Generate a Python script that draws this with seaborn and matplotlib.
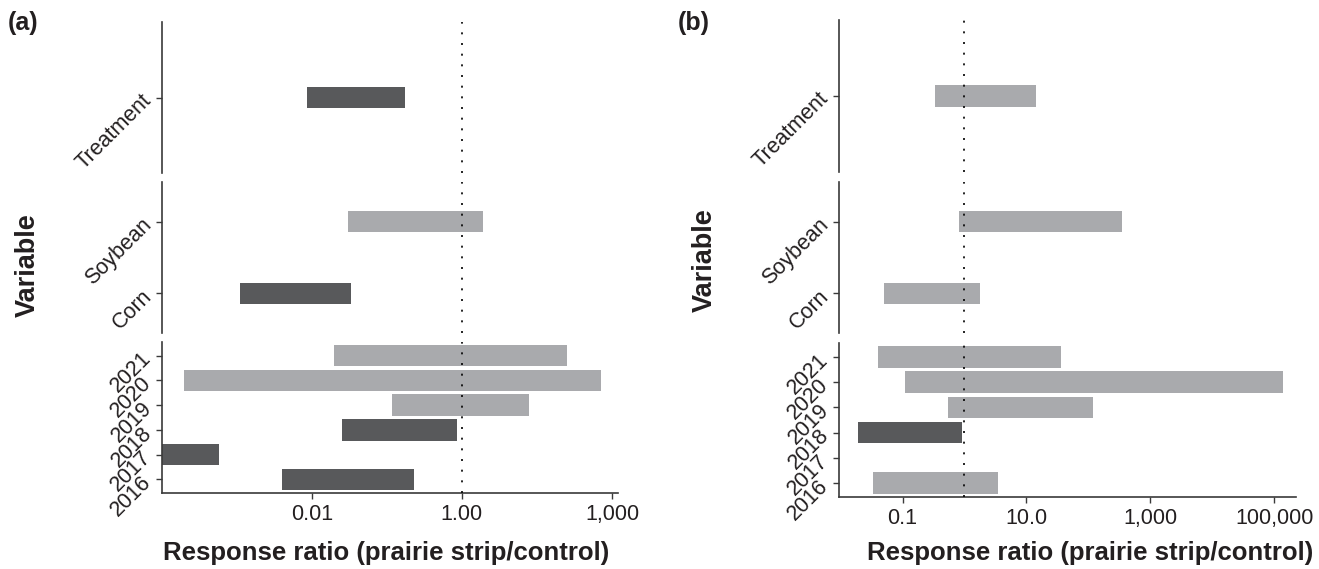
import numpy as np
import pandas as pd
import matplotlib
matplotlib.use('Agg')
import matplotlib.pyplot as plt
import seaborn as sns

sns.set_theme(style='ticks')
plt.rcParams['font.family'] = ['Liberation Sans', 'DejaVu Sans']

DARK = '#58595b'
LIGHT = '#a9aaad'
INK = '#231f20'
BOLD_FONT = ['Liberation Sans', 'DejaVu Sans']

# categories of each facet, top to bottom
treat_cats = ['Treatment']
crop_cats = ['Soybean', 'Corn']
year_cats = ['2021', '2020', '2019', '2018', '2017', '2016']

# panel (a): interval ends of the log10 response ratio, significant = dark
a_treat_lo = [-2.06]
a_treat_hi = [-0.76]
a_treat_sig = [True]
a_crop_lo = [-1.52, -2.96]
a_crop_hi = [0.28, -1.48]
a_crop_sig = [False, True]
a_year_lo = [-1.70, -3.70, -0.93, -1.60, -4.20, -2.40]
a_year_hi = [1.40, 1.86, 0.90, -0.07, -3.24, -0.64]
a_year_sig = [False, False, False, True, True, True]
a_ticks = [-2, 0, 2]
a_tick_labels = ['0.01', '1.00', '1,000']

# panel (b)
b_treat_lo = [-0.48]
b_treat_hi = [1.15]
b_treat_sig = [False]
b_crop_lo = [-0.09, -1.30]
b_crop_hi = [2.54, 0.25]
b_crop_sig = [False, False]
b_year_lo = [-1.39, -0.96, -0.27, -1.72, np.nan, -1.47]
b_year_hi = [1.56, 5.14, 2.07, -0.04, np.nan, 0.54]
b_year_sig = [False, False, False, True, False, False]
b_ticks = [-1, 1, 3, 5]
b_tick_labels = ['0.1', '10.0', '1,000', '100,000']

W, H = 1319, 569
fig = plt.figure(figsize=(W / 100, H / 100), dpi=100)


def px_axes(x0, x1, y0, y1):
    return fig.add_axes([x0 / W, 1 - y1 / H, (x1 - x0) / W, (y1 - y0) / H])


def draw_facet(ax, cats, lo, hi, sig, xlim, ticks, labels, bottom, bar_px=21.7):
    df = pd.DataFrame({'cat': cats, 'lo': lo, 'hi': hi, 'sig': sig}).dropna()
    df['span'] = df['hi'] - df['lo']
    df['pos'] = [cats.index(c) for c in df['cat']]
    df = df.sort_values('pos')
    n = len(cats)
    ylim = (n - 1 + 0.55, -0.55)
    h_px = ax.get_position().height * H
    w = bar_px * (ylim[0] - ylim[1]) / h_px
    sns.barplot(data=df, x='span', y='cat', order=cats, orient='y', width=w,
                left=df['lo'].to_numpy(), errorbar=None, color=LIGHT,
                linewidth=0, ax=ax)
    for p, s in zip(ax.patches, df['sig']):
        p.set_facecolor(DARK if s else LIGHT)
        p.set_edgecolor('none')
    ax.axvline(0, color='black', lw=1.2, ls=(0, (1.2, 5.2)), zorder=3)
    ax.set_xlim(*xlim)
    ax.set_ylim(*ylim)
    ax.set_xlabel('')
    ax.set_ylabel('')
    ax.set_yticks(range(n))
    ax.set_yticklabels(cats, rotation=45, ha='right', va='center',
                       rotation_mode='anchor', fontsize=15.5, color=INK)
    for side in ['top', 'right']:
        ax.spines[side].set_visible(False)
    ax.spines['left'].set_color('#3a3a3a')
    ax.spines['left'].set_linewidth(1.2)
    ax.tick_params(axis='y', length=4, width=1, color='#3a3a3a', pad=6)
    if bottom:
        ax.spines['bottom'].set_color('#3a3a3a')
        ax.spines['bottom'].set_linewidth(1.2)
        ax.set_xticks(ticks)
        ax.set_xticklabels(labels, fontsize=15.5, color=INK)
        ax.tick_params(axis='x', length=4, width=1, color='#3a3a3a', pad=4)
    else:
        ax.spines['bottom'].set_visible(False)
        ax.set_xticks([])


# panel (a)
a_xlim = (-3.99, 2.08)
ax = px_axes(162.3, 618, 22, 173)
draw_facet(ax, treat_cats, a_treat_lo, a_treat_hi, a_treat_sig, a_xlim, a_ticks, a_tick_labels, False)
ax = px_axes(162.3, 618, 182, 333)
draw_facet(ax, crop_cats, a_crop_lo, a_crop_hi, a_crop_sig, a_xlim, a_ticks, a_tick_labels, False)
ax = px_axes(162.3, 618, 342, 493)
draw_facet(ax, year_cats, a_year_lo, a_year_hi, a_year_sig, a_xlim, a_ticks, a_tick_labels, True)

# panel (b)
b_xlim = (-2.02, 5.35)
ax = px_axes(839.3, 1296, 20, 172)
draw_facet(ax, treat_cats, b_treat_lo, b_treat_hi, b_treat_sig, b_xlim, b_ticks, b_tick_labels, False)
ax = px_axes(839.3, 1296, 182, 333)
draw_facet(ax, crop_cats, b_crop_lo, b_crop_hi, b_crop_sig, b_xlim, b_ticks, b_tick_labels, False)
ax = px_axes(839.3, 1296, 343, 497)
draw_facet(ax, year_cats, b_year_lo, b_year_hi, b_year_sig, b_xlim, b_ticks, b_tick_labels, True)

# labels
fig.text(23 / W, 1 - 23 / H, '(a)', ha='center', va='center', fontsize=18,
         fontweight='bold', family=BOLD_FONT, color=INK)
fig.text(694 / W, 1 - 23 / H, '(b)', ha='center', va='center', fontsize=18,
         fontweight='bold', family=BOLD_FONT, color=INK)
fig.text(28 / W, 1 - 265 / H, 'Variable', rotation=90, ha='center', va='center',
         fontsize=19.5, fontweight='bold', family=BOLD_FONT, color=INK)
fig.text(705 / W, 1 - 260 / H, 'Variable', rotation=90, ha='center', va='center',
         fontsize=19.5, fontweight='bold', family=BOLD_FONT, color=INK)
fig.text(386 / W, 1 - 553 / H, 'Response ratio (prairie strip/control)', ha='center',
         va='center', fontsize=18.5, fontweight='bold', family=BOLD_FONT, color=INK)
fig.text(1090 / W, 1 - 553 / H, 'Response ratio (prairie strip/control)', ha='center',
         va='center', fontsize=18.5, fontweight='bold', family=BOLD_FONT, color=INK)

fig.savefig('out.png', dpi=100)
